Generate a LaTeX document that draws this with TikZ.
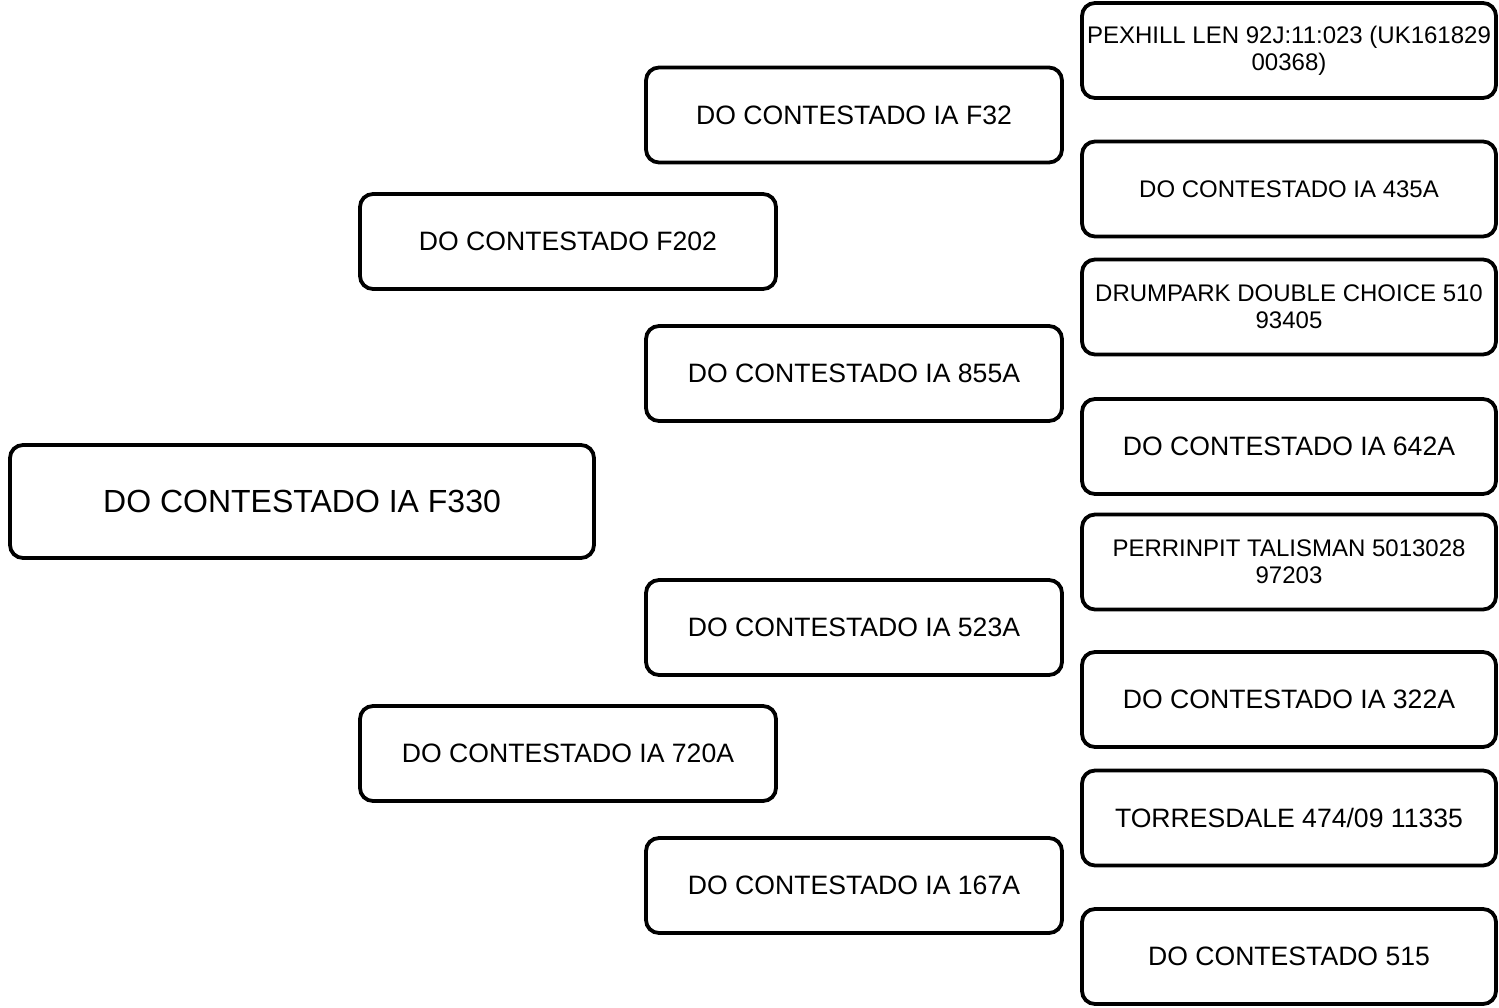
\documentclass[tikz,border=0pt]{standalone}
\usepackage{fontspec}
\setmainfont{Liberation Sans}
\begin{document}
\begin{tikzpicture}[x=0.5pt,y=-0.5pt,
  pbox/.style={draw=black, line width=1.9pt, rounded corners=6.5pt, fill=white,
    inner sep=0pt, outer sep=0pt, align=center},
  midbox/.style={pbox, minimum width=208pt, minimum height=47.5pt, font=\fontsize{13.3pt}{16pt}\selectfont},
  rbox/.style={pbox, minimum width=207pt, minimum height=47.5pt, font=\fontsize{13.3pt}{16pt}\selectfont},
  rsmall/.style={rbox, font=\fontsize{12pt}{13.5pt}\selectfont}]
\useasboundingbox (0,0) rectangle (1499,1007);
% generation 0
\node[pbox, minimum width=292pt, minimum height=56.5pt, font=\fontsize{16pt}{19pt}\selectfont] (root) at (302,501.5) {DO CONTESTADO IA F330};
% generation 1
\node[midbox] (g1a) at (568,241.5) {DO CONTESTADO F202};
\node[midbox] (g1b) at (568,753.5) {DO CONTESTADO IA 720A};
% generation 2
\node[midbox] (g2a) at (854,115) {DO CONTESTADO IA F32};
\node[midbox] (g2b) at (854,373.5) {DO CONTESTADO IA 855A};
\node[midbox] (g2c) at (854,627.5) {DO CONTESTADO IA 523A};
\node[midbox] (g2d) at (854,885.5) {DO CONTESTADO IA 167A};
% generation 3
\node[rsmall] (g3a) at (1289,50.5) {PEXHILL LEN 92J:11:023 (UK161829\\00368)};
\node[rsmall] (g3b) at (1289,189) {DO CONTESTADO IA 435A};
\node[rsmall] (g3c) at (1289,307) {DRUMPARK DOUBLE CHOICE 510\\93405};
\node[rbox] (g3d) at (1289,446.5) {DO CONTESTADO IA 642A};
\node[rsmall] (g3e) at (1289,562) {PERRINPIT TALISMAN 5013028\\97203};
\node[rbox] (g3f) at (1289,699.5) {DO CONTESTADO IA 322A};
\node[rbox] (g3g) at (1289,818) {TORRESDALE 474/09 11335};
\node[rbox] (g3h) at (1289,956.5) {DO CONTESTADO 515};
\end{tikzpicture}
\end{document}
